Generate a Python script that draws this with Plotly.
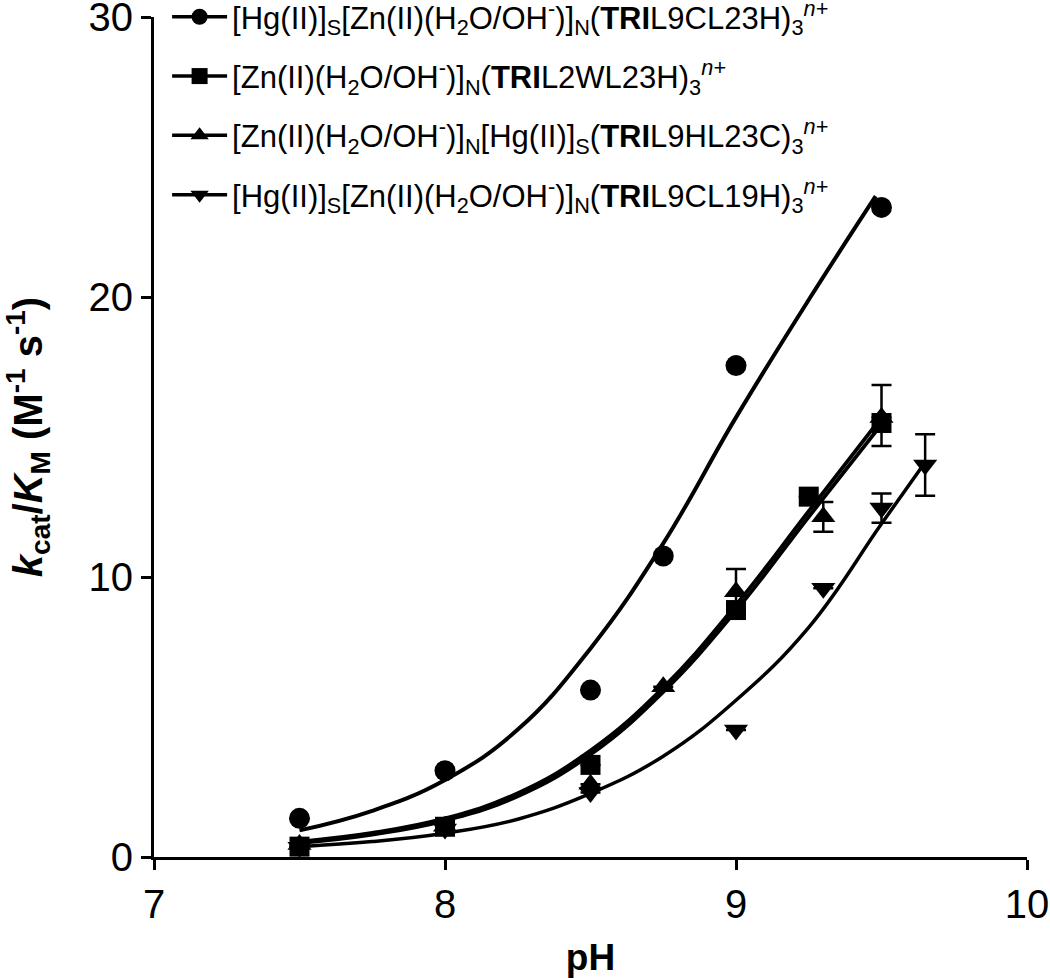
import plotly.graph_objects as go

# ---- data ----
ph_circ = [7.5, 8.0, 8.5, 8.75, 9.0, 9.5]
k_circ = [1.38, 3.08, 5.96, 10.75, 17.55, 23.2]

ph_sq = [7.5, 8.0, 8.5, 9.0, 9.25, 9.5]
k_sq = [0.37, 1.08, 3.29, 8.82, 12.87, 15.5]
sq_err_plus = [0, 0, 0, 0, 0, 1.36]
sq_err_minus = [0, 0, 0, 0, 0, 0.82]

ph_up = [7.5, 8.0, 8.5, 8.75, 9.0, 9.3, 9.5]
k_up = [0.45, 1.1, 2.6, 6.08, 9.47, 12.15, 15.7]
up_err = [0, 0, 0, 0, 0.82, 0.53, 0]

ph_dn = [7.5, 8.0, 8.5, 9.0, 9.3, 9.5, 9.65]
k_dn = [0.35, 1.0, 2.3, 4.54, 9.6, 12.46, 14.0]
dn_err = [0, 0, 0, 0, 0, 0.52, 1.1]

# fitted curves: points
fit_circ_x = [7.5, 7.75, 8.0, 8.25, 8.5, 8.75, 9.0, 9.25, 9.48]
fit_circ_y = [0.95, 1.65, 2.75, 4.55, 7.45, 11.2, 15.7, 19.9, 23.6]
fit_sq_x = [7.5, 7.75, 8.0, 8.25, 8.5, 8.75, 9.0, 9.25, 9.5]
fit_sq_y = [0.5, 0.8, 1.3, 2.17, 3.66, 5.9, 8.8, 12.15, 15.45]
fit_up_x = [7.5, 7.75, 8.0, 8.25, 8.5, 8.75, 9.0, 9.25, 9.5]
fit_up_y = [0.55, 0.86, 1.38, 2.28, 3.8, 6.05, 9.0, 12.35, 15.7]
fit_dn_x = [7.5, 7.75, 8.0, 8.25, 8.5, 8.75, 9.0, 9.25, 9.5, 9.65]
fit_dn_y = [0.37, 0.55, 0.85, 1.35, 2.27, 3.6, 5.6, 8.2, 11.9, 14.1]

labels = [
    "[Hg(II)]<sub>S</sub>[Zn(II)(H<sub>2</sub>O/OH<sup>-</sup>)]<sub>N</sub>(<b>TRI</b>L9CL23H)<sub>3</sub><sup><i>n+</i></sup>",
    "[Zn(II)(H<sub>2</sub>O/OH<sup>-</sup>)]<sub>N</sub>(<b>TRI</b>L2WL23H)<sub>3</sub><sup><i>n+</i></sup>",
    "[Zn(II)(H<sub>2</sub>O/OH<sup>-</sup>)]<sub>N</sub>[Hg(II)]<sub>S</sub>(<b>TRI</b>L9HL23C)<sub>3</sub><sup><i>n+</i></sup>",
    "[Hg(II)]<sub>S</sub>[Zn(II)(H<sub>2</sub>O/OH<sup>-</sup>)]<sub>N</sub>(<b>TRI</b>L9CL19H)<sub>3</sub><sup><i>n+</i></sup>",
]
symbols = ["circle", "square", "triangle-up", "triangle-down"]

FONT = "Arial, Liberation Sans, sans-serif"
fig = go.Figure()

for fx, fy, w in [(fit_circ_x, fit_circ_y, 4), (fit_sq_x, fit_sq_y, 3.8),
                  (fit_up_x, fit_up_y, 3.8), (fit_dn_x, fit_dn_y, 3.5)]:
    fig.add_trace(go.Scatter(x=fx, y=fy, mode="lines",
                             line=dict(color="black", width=w, shape="spline", smoothing=1.2),
                             showlegend=False, hoverinfo="skip"))

err_style = dict(color="black", thickness=2.5, width=10)
fig.add_trace(go.Scatter(x=ph_circ, y=k_circ, mode="markers", showlegend=False,
                         marker=dict(symbol="circle", size=21, color="black")))
fig.add_trace(go.Scatter(x=ph_up, y=k_up, mode="markers", showlegend=False,
                         marker=dict(symbol="triangle-up", size=21, color="black"),
                         error_y=dict(type="data", array=up_err, symmetric=True, **err_style)))
fig.add_trace(go.Scatter(x=ph_dn, y=k_dn, mode="markers", showlegend=False,
                         marker=dict(symbol="triangle-down", size=21, color="black"),
                         error_y=dict(type="data", array=dn_err, symmetric=True, **err_style)))
fig.add_trace(go.Scatter(x=ph_sq, y=k_sq, mode="markers", showlegend=False,
                         marker=dict(symbol="square", size=20, color="black"),
                         error_y=dict(type="data", array=sq_err_plus, arrayminus=sq_err_minus, **err_style)))

for i, (lab, sym) in enumerate(zip(labels, symbols)):
    fig.add_trace(go.Scatter(x=[None], y=[None], mode="lines+markers", name=lab, legendgroup=str(i),
                             line=dict(color="black", width=3.5),
                             marker=dict(symbol=sym, size=19, color="black")))

fig.update_layout(
    width=1050, height=978,
    paper_bgcolor="white", plot_bgcolor="white",
    margin=dict(l=154, r=23, t=17, b=121, autoexpand=False),
    font=dict(family=FONT, size=31, color="black"),
    showlegend=True,
    legend=dict(x=0.015, y=1.032, xanchor="left", yanchor="top", bgcolor="rgba(0,0,0,0)",
                font=dict(family=FONT, size=31, color="black"), traceorder="grouped",
                tracegroupgap=16, itemwidth=55),
    xaxis=dict(range=[7, 10], tickvals=[7, 8, 9, 10], showgrid=False, zeroline=False, automargin=False,
               showline=True, linecolor="black", linewidth=3, ticks="outside", ticklen=10,
               tickwidth=3, tickcolor="black", tickfont=dict(size=40, family=FONT),
               ticklabeloverflow="allow",
               title=dict(text="<b>pH</b>", font=dict(size=37, family=FONT), standoff=26)),
    yaxis=dict(range=[0, 30], tickvals=[0, 10, 20, 30], showgrid=False, zeroline=False, automargin=False,
               showline=True, linecolor="black", linewidth=3, ticks="outside", ticklen=10,
               tickwidth=3, tickcolor="black", tickfont=dict(size=40, family=FONT),
               ticklabeloverflow="allow",
               title=dict(text="<b><i>k</i><sub>cat</sub>/<i>K</i><sub>M</sub> (M<sup>-1</sup> s<sup>-1</sup>)</b>",
                          font=dict(size=40, family=FONT), standoff=34)),
)
fig.update_traces(cliponaxis=False)
fig.write_html("out.html", config={"displayModeBar": False},
               post_script="document.body.style.margin='0';document.body.style.overflow='hidden';")
